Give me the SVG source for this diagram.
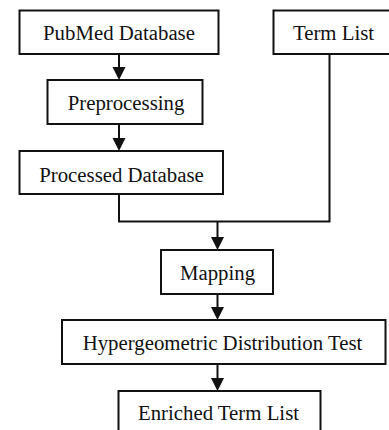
<svg xmlns="http://www.w3.org/2000/svg" width="389" height="430" viewBox="0 0 389 430">
<style>
.box{fill:#fff;stroke:#111;stroke-width:2}
.lbl{font-family:"Liberation Serif","Times New Roman",serif;font-size:20.8px;fill:#111;text-anchor:middle}
.con{fill:none;stroke:#111;stroke-width:2}
.ah{fill:#111;stroke:none}
</style>
<defs>
<polygon id="head" class="ah" points="-6.5,-13 6.5,-13 0,0"/>
</defs>
<rect width="389" height="430" fill="#fff"/>
<g id="connectors">
<line class="con" x1="119" y1="54" x2="119" y2="68"/>
<use href="#head" x="119" y="80"/>
<line class="con" x1="119" y1="124" x2="119" y2="138"/>
<use href="#head" x="119" y="151"/>
<polyline class="con" points="119,194 119,221.5 329.5,221.5 329.5,54"/>
<line class="con" x1="217.5" y1="221.5" x2="217.5" y2="238"/>
<use href="#head" x="217.5" y="250"/>
<line class="con" x1="217.5" y1="294" x2="217.5" y2="308"/>
<use href="#head" x="217.5" y="320"/>
<line class="con" x1="217.5" y1="364" x2="217.5" y2="378"/>
<use href="#head" x="217.5" y="391"/>
</g>
<g id="pubmed">
<rect class="box" x="19.5" y="10.5" width="199" height="43.5"/>
<text class="lbl" x="119" y="40">PubMed Database</text>
</g>
<g id="termlist">
<rect class="box" x="273.5" y="10.5" width="120" height="43.5"/>
<text class="lbl" x="333.5" y="40">Term List</text>
</g>
<g id="preprocessing">
<rect class="box" x="47.5" y="80" width="155" height="44"/>
<text class="lbl" x="126" y="110">Preprocessing</text>
</g>
<g id="processed">
<rect class="box" x="19.5" y="151" width="203.5" height="43"/>
<text class="lbl" x="121.5" y="181.5">Processed Database</text>
</g>
<g id="mapping">
<rect class="box" x="161" y="250" width="112" height="44"/>
<text class="lbl" x="217.5" y="279.5">Mapping</text>
</g>
<g id="hypergeo">
<rect class="box" x="62" y="320" width="323.5" height="44"/>
<text class="lbl" x="222.5" y="350">Hypergeometric Distribution Test</text>
</g>
<g id="enriched">
<rect class="box" x="118.5" y="391" width="202" height="44"/>
<text class="lbl" x="218.5" y="420">Enriched Term List</text>
</g>
</svg>
